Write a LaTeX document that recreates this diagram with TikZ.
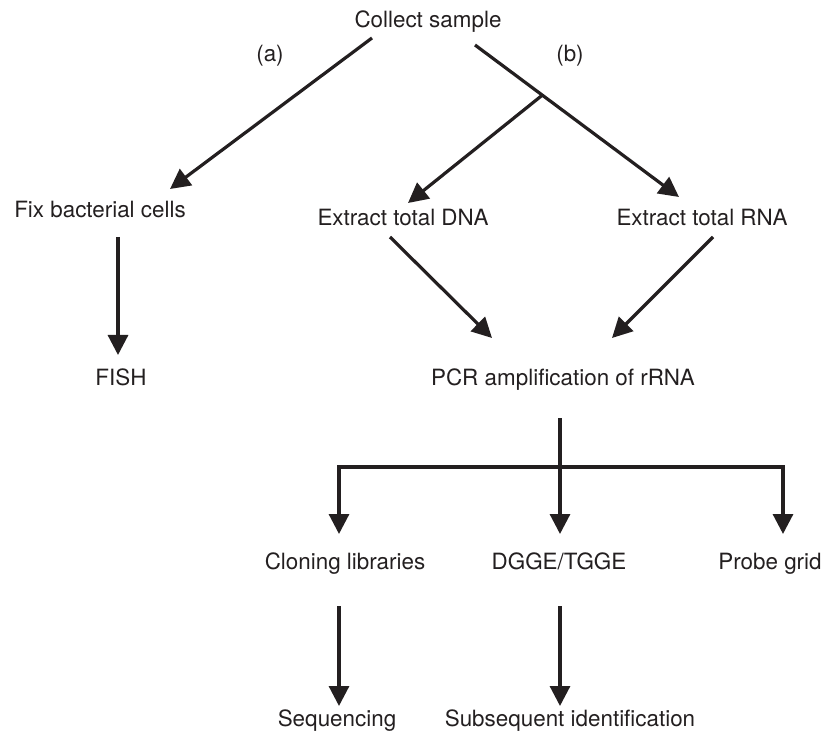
\documentclass[tikz,border=0pt]{standalone}
\usepackage{fontspec}
\setmainfont{TeX Gyre Heros}
\usetikzlibrary{calc,arrows.meta}
\definecolor{FlowInk}{RGB}{35,31,32}

\begin{document}
\begin{tikzpicture}[
x=1pt,y=-1pt,
txt/.style={anchor=base,inner sep=0pt,text=FlowInk,font=\fontsize{22.4}{26}\selectfont},
arrow/.style={-{Triangle[length=20pt,width=20pt]},line width=3.2pt,draw=FlowInk}
]
\useasboundingbox (0,0) rectangle (831,738);
\node[txt] (collect) at (428,28) {Collect sample};
\node[txt] (pa) at (270,62) {(a)};
\node[txt] (pb) at (570,62) {(b)};
\node[txt] (fix) at (100,218) {Fix bacterial cells};
\node[txt] (dna) at (403,226) {Extract total DNA};
\node[txt] (rna) at (702,226) {Extract total RNA};
\node[txt] (fish) at (121,386) {FISH};
\node[txt] (pcr) at (563,386) {PCR amplification of rRNA};
\node[txt] (clon) at (345,569) {Cloning libraries};
\node[txt] (dgge) at (559,569) {DGGE/TGGE};
\node[txt] (probe) at (770,569) {Probe grid};
\node[txt] (seq) at (337,726) {Sequencing};
\node[txt] (ident) at (570,726) {Subsequent identification};
\coordinate (bar) at ($(pcr.base)+(-3,81)$);

\draw[arrow] ($(collect.base)+(-56,10)$)--($(fix.base)+(70,-29)$);
\draw[arrow] ($(collect.base)+(47,17)$)-- coordinate[pos=0.33] (split) ($(rna.base)+(-23,-29)$);
\draw[arrow] (split)--($(dna.base)+(5,-23)$);
\draw[arrow] ($(fix.base)+(18,19)$)--($(fish.base)+(-3,-31)$);
\draw[arrow] ($(dna.base)+(-13,11)$)--($(pcr.base)+(-71,-48)$);
\draw[arrow] ($(rna.base)+(11,11)$)--($(pcr.base)+(49,-48)$);
\draw[arrow] ($(pcr.base)+(-3,32)$)--($(dgge.base)+(1,-35)$);
\draw[arrow] (bar)-|($(clon.base)+(-6,-35)$);
\draw[arrow] (bar)-|($(probe.base)+(13,-35)$);
\draw[arrow] ($(clon.base)+(-6,37)$)--($(seq.base)+(2,-20)$);
\draw[arrow] ($(dgge.base)+(1,37)$)--($(ident.base)+(-10,-20)$);
\end{tikzpicture}
\end{document}
